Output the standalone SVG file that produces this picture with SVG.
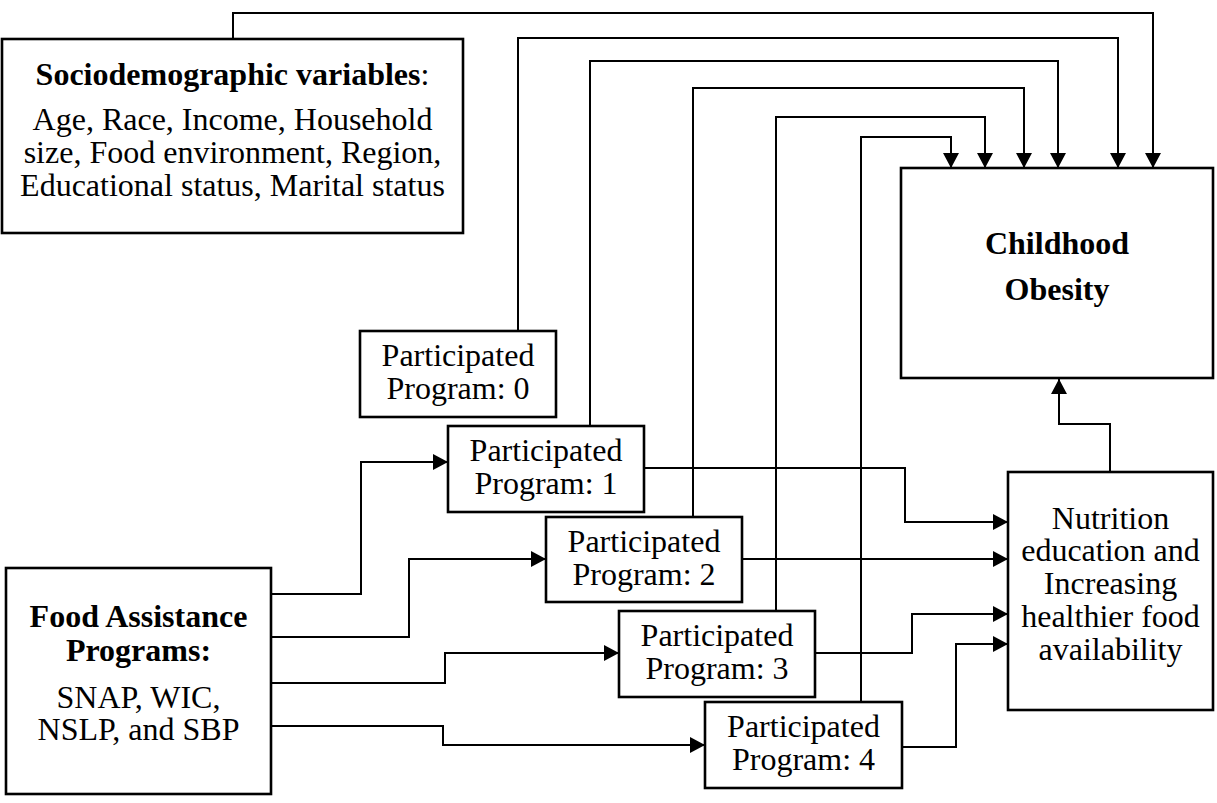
<svg xmlns="http://www.w3.org/2000/svg" width="1217" height="803" viewBox="0 0 1217 803">
<style>
.box{fill:#fff;stroke:#000;stroke-width:2.6}
.c{fill:none;stroke:#000;stroke-width:2;marker-end:url(#arr)}
text{font-family:"Liberation Serif","Times New Roman",serif;font-size:32px;fill:#000;text-anchor:middle}
.b{font-weight:bold}
</style>
<defs>
<marker id="arr" markerUnits="userSpaceOnUse" markerWidth="16" markerHeight="16" refX="15" refY="8" orient="auto" viewBox="0 0 16 16">
<path d="M0,0 L15,8 L0,16 z" fill="#000"/>
</marker>
</defs>
<rect width="1217" height="803" fill="#fff"/>
<g id="connectors">
<path class="c" d="M233,39 V13 H1153 V168"/>
<path class="c" d="M518,331 V38 H1118 V168"/>
<path class="c" d="M590,426 V61 H1058 V168"/>
<path class="c" d="M693,517 V88 H1024 V168"/>
<path class="c" d="M776,611 V117 H985 V168"/>
<path class="c" d="M861,702 V137 H951 V168"/>
<path class="c" d="M1110,472 V424 H1059 V379"/>
<path class="c" d="M271,594 H361 V462 H448"/>
<path class="c" d="M271,637 H409 V559 H546"/>
<path class="c" d="M271,683 H445 V653 H619"/>
<path class="c" d="M271,726 H443 V745 H705"/>
<path class="c" d="M644,468 H905 V522 H1008"/>
<path class="c" d="M742,559 H1008"/>
<path class="c" d="M815,653 H912 V614 H1008"/>
<path class="c" d="M902,747 H956 V644 H1008"/>
</g>
<g id="socio">
<rect class="box" x="2" y="39" width="461" height="194"/>
<text x="232.5" y="85"><tspan class="b">Sociodemographic variables</tspan>:</text>
<text x="232.5" y="130">Age, Race, Income, Household</text>
<text x="232.5" y="163">size, Food environment, Region,</text>
<text x="232.5" y="196">Educational status, Marital status</text>
</g>
<g id="childhood">
<rect class="box" x="901" y="168" width="312" height="210"/>
<text class="b" x="1057" y="254">Childhood</text>
<text class="b" x="1057" y="300">Obesity</text>
</g>
<g id="food">
<rect class="box" x="6" y="568" width="265" height="226"/>
<text class="b" x="138.5" y="627">Food Assistance</text>
<text class="b" x="138.5" y="661">Programs:</text>
<text x="138.5" y="708">SNAP, WIC,</text>
<text x="138.5" y="740">NSLP, and SBP</text>
</g>
<g id="p0">
<rect class="box" x="360" y="331" width="196" height="86"/>
<text x="458" y="366">Participated</text>
<text x="458" y="399">Program: 0</text>
</g>
<g id="p1">
<rect class="box" x="448" y="426" width="196" height="86"/>
<text x="546" y="461">Participated</text>
<text x="546" y="494">Program: 1</text>
</g>
<g id="p2">
<rect class="box" x="546" y="517" width="196" height="85"/>
<text x="644" y="552">Participated</text>
<text x="644" y="585">Program: 2</text>
</g>
<g id="p3">
<rect class="box" x="619" y="611" width="196" height="86"/>
<text x="717" y="646">Participated</text>
<text x="717" y="679">Program: 3</text>
</g>
<g id="p4">
<rect class="box" x="705" y="702" width="197" height="86"/>
<text x="803.5" y="737">Participated</text>
<text x="803.5" y="770">Program: 4</text>
</g>
<g id="nutrition">
<rect class="box" x="1008" y="472" width="205" height="238"/>
<text x="1110.5" y="529">Nutrition</text>
<text x="1110.5" y="561">education and</text>
<text x="1110.5" y="594">Increasing</text>
<text x="1110.5" y="627">healthier food</text>
<text x="1110.5" y="660">availability</text>
</g>
</svg>
